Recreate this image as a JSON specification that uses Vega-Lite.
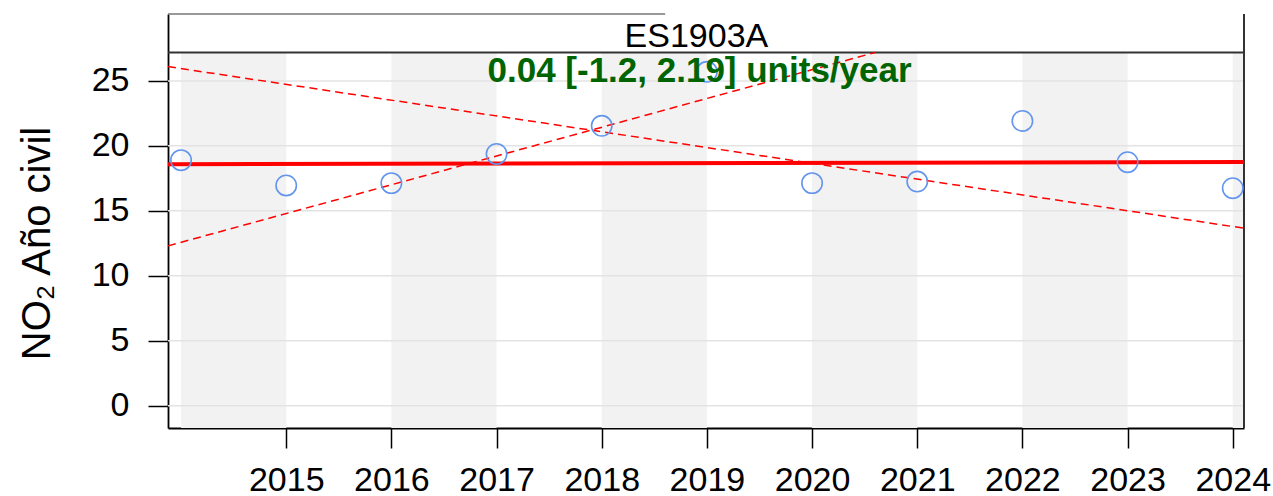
{
  "$schema": "https://vega.github.io/schema/vega-lite/v6.json",
  "width": 1076,
  "height": 414,
  "autosize": {"type": "none"},
  "padding": {"left": 168, "top": 14, "right": 29, "bottom": 68},
  "background": "white",
  "config": {"view": {"stroke": null}, "font": "Liberation Sans"},
  "datasets": {
    "obs": [
      {"year": 2014, "value": 18.9},
      {"year": 2015, "value": 16.95},
      {"year": 2016, "value": 17.13},
      {"year": 2017, "value": 19.38},
      {"year": 2018, "value": 21.54},
      {"year": 2019, "value": 25.7},
      {"year": 2020, "value": 17.13},
      {"year": 2021, "value": 17.25},
      {"year": 2022, "value": 21.92},
      {"year": 2023, "value": 18.74},
      {"year": 2024, "value": 16.74}
    ],
    "bands": [
      {"x0": 2014, "x1": 2015, "y0": -1.72, "y1": 27.19},
      {"x0": 2016, "x1": 2017, "y0": -1.72, "y1": 27.19},
      {"x0": 2018, "x1": 2019, "y0": -1.72, "y1": 27.19},
      {"x0": 2020, "x1": 2021, "y0": -1.72, "y1": 27.19},
      {"x0": 2022, "x1": 2023, "y0": -1.72, "y1": 27.19},
      {"x0": 2024, "x1": 2024.107, "y0": -1.72, "y1": 27.19}
    ],
    "grid": [
      {"v": 0, "x0": 2013.876, "x1": 2024.107},
      {"v": 5, "x0": 2013.876, "x1": 2024.107},
      {"v": 10, "x0": 2013.876, "x1": 2024.107},
      {"v": 15, "x0": 2013.876, "x1": 2024.107},
      {"v": 20, "x0": 2013.876, "x1": 2024.107},
      {"v": 25, "x0": 2013.876, "x1": 2024.107}
    ],
    "trend": [
      {"line": "main", "year": 2013.876, "value": 18.58},
      {"line": "main", "year": 2024.107, "value": 18.76},
      {"line": "upper", "year": 2013.876, "value": 12.3},
      {"line": "upper", "year": 2020.6, "value": 27.19},
      {"line": "lower", "year": 2013.876, "value": 26.1},
      {"line": "lower", "year": 2024.107, "value": 13.66}
    ],
    "hrules": [
      {"kind": "stripBottom", "x0": 2013.876, "x1": 2024.107, "y": 27.19},
      {"kind": "stripTop", "x0": 2013.876, "x1": 2018.603, "y": 30.15}
    ],
    "vrules": [
      {"x": 2024.107, "y0": -1.72, "y1": 30.15}
    ],
    "labels": [
      {"kind": "strip", "x": 2018.9, "y": 27.64, "text": "ES1903A"},
      {"kind": "slope", "x": 2018.93, "y": 24.92, "text": "0.04 [-1.2, 2.19] units/year"}
    ]
  },
  "layer": [
    {
      "data": {"name": "bands"},
      "mark": {"type": "rect", "color": "#f2f2f2"},
      "encoding": {
        "x": {"field": "x0", "type": "quantitative",
          "scale": {"domain": [2013.876, 2024.107], "nice": false, "zero": false},
          "axis": {"values": [2015, 2016, 2017, 2018, 2019, 2020, 2021, 2022, 2023, 2024], "format": "d", "title": null, "grid": false,
            "labelFontSize": 34, "labelColor": "black", "labelPadding": 15, "tickSize": 20, "tickWidth": 1.5, "tickColor": "black",
            "domainColor": "black", "domainWidth": 1.8, "labelFlush": false, "labelOverlap": false, "labelFont": "Liberation Sans"}},
        "x2": {"field": "x1"},
        "y": {"field": "y0", "type": "quantitative",
          "scale": {"domain": [-1.72, 30.15], "nice": false, "zero": false},
          "axis": {"values": [0, 5, 10, 15, 20, 25], "title": "NO₂ Año civil", "grid": false,
            "labelFontSize": 34, "labelColor": "black", "labelPadding": 19, "tickSize": 20, "tickWidth": 1.5, "tickColor": "black",
            "domainColor": "black", "domainWidth": 1.8, "labelFont": "Liberation Sans",
            "titleFont": "Liberation Sans", "titleFontSize": 40, "titleFontWeight": "normal", "titleColor": "black",
            "titleX": -119, "titleY": 229, "titleBaseline": "alphabetic", "titleAngle": -90}},
        "y2": {"field": "y1"}
      }
    },
    {
      "data": {"name": "grid"},
      "mark": {"type": "rule", "color": "#e3e3e3", "strokeWidth": 1.5},
      "encoding": {
        "x": {"field": "x0", "type": "quantitative"},
        "x2": {"field": "x1"},
        "y": {"field": "v", "type": "quantitative"}
      }
    },
    {
      "data": {"name": "hrules"},
      "transform": [{"filter": "datum.kind == 'stripBottom'"}],
      "mark": {"type": "rule", "color": "#333333", "strokeWidth": 2},
      "encoding": {
        "x": {"field": "x0", "type": "quantitative"},
        "x2": {"field": "x1"},
        "y": {"field": "y", "type": "quantitative"}
      }
    },
    {
      "data": {"name": "hrules"},
      "transform": [{"filter": "datum.kind == 'stripTop'"}],
      "mark": {"type": "rule", "color": "#777777", "strokeWidth": 1.5},
      "encoding": {
        "x": {"field": "x0", "type": "quantitative"},
        "x2": {"field": "x1"},
        "y": {"field": "y", "type": "quantitative"}
      }
    },
    {
      "data": {"name": "vrules"},
      "mark": {"type": "rule", "color": "#333333", "strokeWidth": 2},
      "encoding": {
        "x": {"field": "x", "type": "quantitative"},
        "y": {"field": "y0", "type": "quantitative"},
        "y2": {"field": "y1"}
      }
    },
    {
      "data": {"name": "trend"},
      "transform": [{"filter": "datum.line != 'main'"}],
      "mark": {"type": "line", "color": "#ff0000", "strokeWidth": 1.5, "strokeDash": [8, 5]},
      "encoding": {
        "x": {"field": "year", "type": "quantitative"},
        "y": {"field": "value", "type": "quantitative"},
        "detail": {"field": "line"}
      }
    },
    {
      "data": {"name": "trend"},
      "transform": [{"filter": "datum.line == 'main'"}],
      "mark": {"type": "line", "color": "#ff0000", "strokeWidth": 4},
      "encoding": {
        "x": {"field": "year", "type": "quantitative"},
        "y": {"field": "value", "type": "quantitative"}
      }
    },
    {
      "data": {"name": "obs"},
      "mark": {"type": "point", "shape": "circle", "filled": false, "color": "#6495ED", "size": 415, "strokeWidth": 1.6, "opacity": 1},
      "encoding": {
        "x": {"field": "year", "type": "quantitative"},
        "y": {"field": "value", "type": "quantitative"}
      }
    },
    {
      "data": {"name": "labels"},
      "transform": [{"filter": "datum.kind == 'strip'"}],
      "mark": {"type": "text", "font": "Liberation Sans", "fontSize": 34, "color": "black", "align": "center", "baseline": "alphabetic"},
      "encoding": {
        "x": {"field": "x", "type": "quantitative"},
        "y": {"field": "y", "type": "quantitative"},
        "text": {"field": "text"}
      }
    },
    {
      "data": {"name": "labels"},
      "transform": [{"filter": "datum.kind == 'slope'"}],
      "mark": {"type": "text", "font": "Liberation Sans", "fontSize": 35, "fontWeight": "bold", "color": "#006400", "align": "center", "baseline": "alphabetic"},
      "encoding": {
        "x": {"field": "x", "type": "quantitative"},
        "y": {"field": "y", "type": "quantitative"},
        "text": {"field": "text"}
      }
    }
  ]
}
